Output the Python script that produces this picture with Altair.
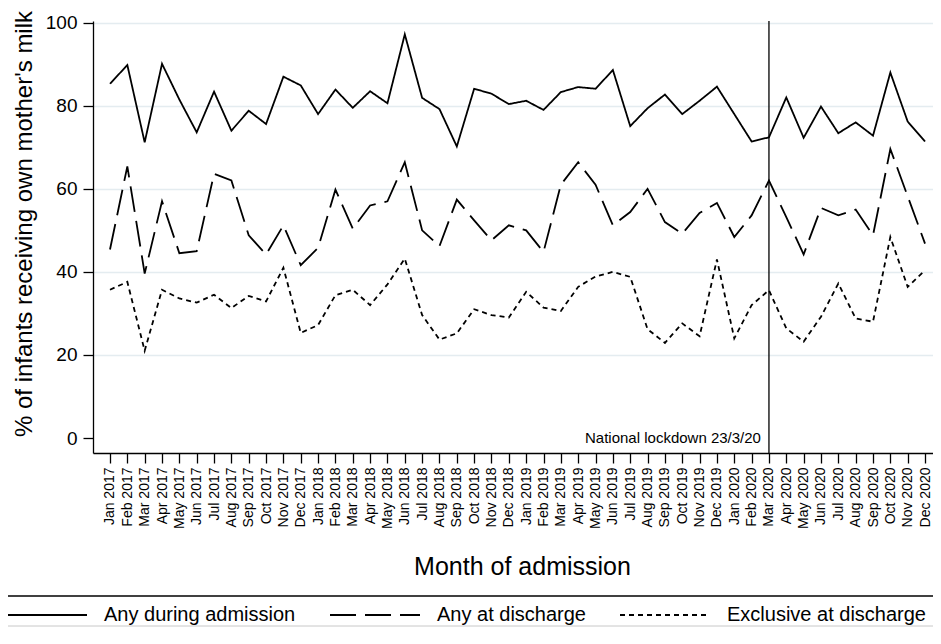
import altair as alt
import pandas as pd

# ---------------- data ----------------
months = [
    "Jan 2017", "Feb 2017", "Mar 2017", "Apr 2017", "May 2017", "Jun 2017",
    "Jul 2017", "Aug 2017", "Sep 2017", "Oct 2017", "Nov 2017", "Dec 2017",
    "Jan 2018", "Feb 2018", "Mar 2018", "Apr 2018", "May 2018", "Jun 2018",
    "Jul 2018", "Aug 2018", "Sep 2018", "Oct 2018", "Nov 2018", "Dec 2018",
    "Jan 2019", "Feb 2019", "Mar 2019", "Apr 2019", "May 2019", "Jun 2019",
    "Jul 2019", "Aug 2019", "Sep 2019", "Oct 2019", "Nov 2019", "Dec 2019",
    "Jan 2020", "Feb 2020", "Mar 2020", "Apr 2020", "May 2020", "Jun 2020",
    "Jul 2020", "Aug 2020", "Sep 2020", "Oct 2020", "Nov 2020", "Dec 2020",
]

series_names = ["Any during admission", "Any at discharge", "Exclusive at discharge"]

any_during_admission = [
    85.3, 89.8, 71.2, 90.1, 81.5, 73.6, 83.4, 74.0, 78.8, 75.6, 87.0, 84.9,
    78.0, 83.9, 79.5, 83.5, 80.6, 97.2, 81.9, 79.2, 70.2, 84.1, 82.9, 80.4,
    81.2, 79.0, 83.3, 84.5, 84.1, 88.6, 75.1, 79.4, 82.7, 78.0, 81.2, 84.6,
    78.0, 71.4, 72.4, 82.0, 72.3, 79.8, 73.4, 76.0, 72.8, 88.0, 76.2, 71.4,
]

any_at_discharge = [
    45.4, 65.4, 39.6, 57.0, 44.5, 45.0, 63.6, 62.0, 48.8, 44.2, 51.2, 41.6,
    45.8, 59.8, 50.4, 56.0, 57.0, 66.4, 50.0, 46.2, 57.4, 52.4, 47.6, 51.2,
    50.0, 44.8, 61.0, 66.4, 61.0, 51.2, 54.4, 60.0, 52.0, 49.2, 54.2, 56.6,
    48.4, 53.6, 62.0, 53.2, 44.2, 55.4, 53.6, 55.0, 48.8, 69.6, 58.2, 46.8,
]

exclusive_at_discharge = [
    35.7, 37.6, 21.0, 35.7, 33.6, 32.6, 34.5, 31.3, 34.2, 32.9, 41.0, 25.3,
    27.2, 34.4, 35.7, 32.0, 37.0, 43.2, 29.6, 23.7, 25.2, 31.0, 29.6, 29.0,
    35.2, 31.4, 30.6, 36.4, 38.9, 40.0, 38.8, 26.2, 22.9, 27.6, 24.5, 43.0,
    24.0, 32.0, 35.6, 26.4, 23.2, 29.2, 37.2, 28.8, 28.0, 48.4, 36.4, 40.4,
]

y_ticks = [0, 20, 40, 60, 80, 100]
lockdown_month = "Mar 2020"
lockdown_label = "National lockdown 23/3/20"

# ---------------- tables ----------------
rows = []
for name, vals in zip(series_names, [any_during_admission, any_at_discharge, exclusive_at_discharge]):
    for i, m in enumerate(months):
        rows.append({"idx": i, "month": m, "series": name, "value": vals[i]})
df = pd.DataFrame(rows)

lock_df = pd.DataFrame({
    "idx": [months.index(lockdown_month)],
    "label": [lockdown_label],
    "value": [0],
})

FONT = "Liberation Sans"
label_expr = "[" + ",".join("'%s'" % m for m in months) + "][datum.value]"

W, H = 840, 432
x_scale = alt.Scale(domain=[-0.98, 47.46], nice=False, zero=False)
y_scale = alt.Scale(domain=[-3.61, 100.41], nice=False, zero=False)

x_axis = alt.Axis(
    values=list(range(len(months))), labelExpr=label_expr, labelAngle=270,
    labelFontSize=14, labelPadding=4, labelOverlap=False, labelFlush=False,
    labelBound=False, tickCount=48,
    tickSize=10, tickColor="black", tickWidth=1.3,
    domainColor="black", domainWidth=1.3, grid=False,
    title="Month of admission", titleFontSize=25, titleFontWeight="normal",
    titleX=429, titleY=121, titleAlign="center", titleBaseline="alphabetic",
    labelFont=FONT, titleFont=FONT, labelColor="black", titleColor="black",
)

y_axis = alt.Axis(
    values=y_ticks, labelFontSize=19, labelPadding=6,
    tickSize=10, tickColor="black", tickWidth=1.3,
    domainColor="black", domainWidth=1.3,
    grid=True, gridColor="#e4ecf0", gridWidth=1.5,
    gridOpacity={"condition": {"test": "datum.value === 0", "value": 0}, "value": 1},
    title="% of infants receiving own mother's milk", titleFontSize=24,
    titleFontWeight="normal", titleAngle=270, titleX=-62, titleY=202.5,
    titleAlign="center", titleBaseline="alphabetic",
    labelFont=FONT, titleFont=FONT, labelColor="black", titleColor="black",
)

legend = alt.Legend(
    title=None, orient="none", legendX=-97, legendY=548,
    direction="horizontal", columns=3, symbolType="stroke", symbolSize=8100,
    symbolStrokeWidth=1.8, symbolStrokeColor="black",
    labelFontSize=20, labelFont=FONT, labelColor="black", labelOffset=16,
    columnPadding=30, labelLimit=400,
)

lines = alt.Chart(df).mark_line(color="black", strokeWidth=1.8).encode(
    x=alt.X("idx:Q", scale=x_scale, axis=x_axis),
    y=alt.Y("value:Q", scale=y_scale, axis=y_axis),
    strokeDash=alt.StrokeDash(
        "series:N",
        scale=alt.Scale(domain=series_names, range=[[1, 0], [26, 9], [5, 4]]),
        legend=legend,
    ),
)

lock_rule = alt.Chart(lock_df).mark_rule(color="black", strokeWidth=1.3).encode(
    x=alt.X("idx:Q", scale=x_scale, axis=x_axis),
)

lock_text = alt.Chart(lock_df).mark_text(
    align="right", baseline="middle", dx=-8, fontSize=15, font=FONT, color="black"
).encode(
    x=alt.X("idx:Q", scale=x_scale, axis=x_axis),
    y=alt.Y("value:Q", scale=y_scale, axis=y_axis),
    text="label:N",
)

box_df = pd.DataFrame({"k": [0]})
legend_top = alt.Chart(box_df).mark_rule(color="black", strokeWidth=1.5).encode(
    x=alt.value(-93), x2=alt.value(W), y=alt.value(575)
)
legend_bottom = alt.Chart(box_df).mark_rule(color="#c8c8c8", strokeWidth=1).encode(
    x=alt.value(-93), x2=alt.value(W), y=alt.value(605)
)

chart = alt.layer(lines, lock_rule, lock_text, legend_top, legend_bottom).properties(
    width=W, height=H,
    autosize=alt.AutoSizeParams(type="none"),
    padding={"left": 85, "top": 13, "right": 0, "bottom": 175},
).configure(background="white").configure_view(stroke=None)

chart.save("out.html", embed_options={"renderer": "svg", "actions": False})
